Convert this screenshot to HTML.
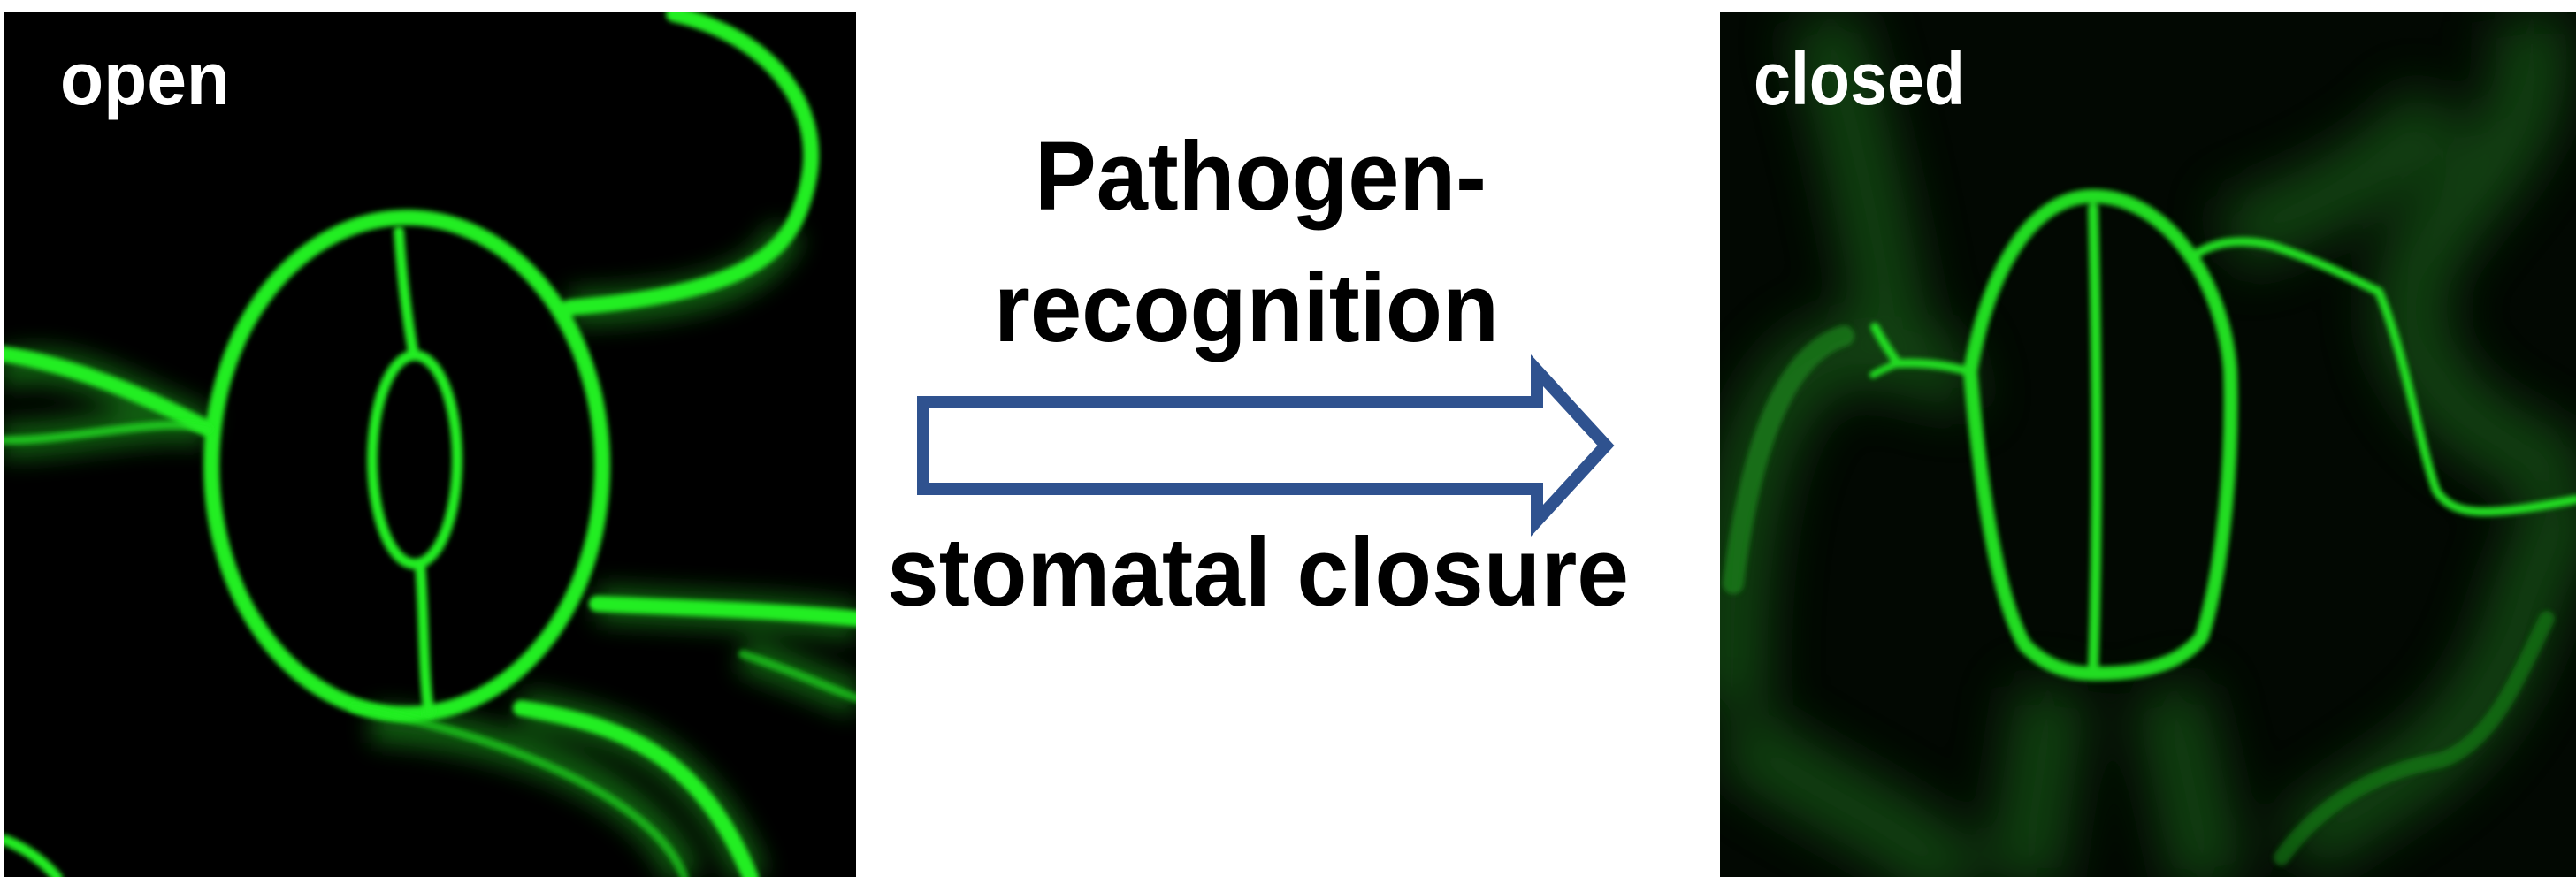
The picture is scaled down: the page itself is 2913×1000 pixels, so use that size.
<!DOCTYPE html>
<html><head><meta charset="utf-8"><style>
html,body{margin:0;padding:0;background:#fff;width:2913px;height:1000px;overflow:hidden}
svg{display:block}
</style></head><body>
<svg width="2913" height="1000" viewBox="0 0 2913 1000" xmlns="http://www.w3.org/2000/svg">
<defs>
<filter id="g" x="-20%" y="-20%" width="140%" height="140%"><feGaussianBlur stdDeviation="3"/></filter>
<filter id="h" x="-30%" y="-30%" width="160%" height="160%"><feGaussianBlur stdDeviation="14"/></filter>
<filter id="hh" x="-30%" y="-30%" width="160%" height="160%"><feGaussianBlur stdDeviation="30"/></filter>
<clipPath id="cl"><rect x="5" y="14" width="963" height="978"/></clipPath>
<clipPath id="cr"><rect x="1945" y="14" width="968" height="978"/></clipPath>
</defs>
<rect width="2913" height="1000" fill="#fff"/>

<!-- LEFT PANEL -->
<g clip-path="url(#cl)">
<rect x="5" y="14" width="963" height="978" fill="#000"/>
<g fill="none" stroke="#1f9a1f" stroke-width="40" filter="url(#h)" opacity="0.6">
<path d="M0,420 C80,400 130,440 235,485"/>
<path d="M0,498 C80,500 180,470 235,485"/>
<path d="M675,683 C780,690 880,690 970,705"/>
<path d="M840,740 C900,760 940,780 970,790"/>
<path d="M589,801 C700,820 790,850 849,993"/>
<path d="M420,820 C600,830 740,900 774,993"/>
<path d="M644,348 C760,345 860,330 890,260"/>
</g>
<g fill="none" stroke="#22ee22" stroke-linecap="round">
<g filter="url(#g)" stroke-width="18">
<ellipse cx="460" cy="527" rx="221" ry="281"/>
<path d="M762,16 C870,40 930,120 915,200 C900,280 860,330 644,348"/>
<path d="M0,400 C70,410 150,440 235,485"/>
<path d="M675,683 C780,688 870,690 970,700"/>
<path d="M589,801 C700,820 790,850 849,993"/>
<path d="M5,950 C30,960 50,975 65,993" stroke-width="12"/>
</g>
<g filter="url(#g)" stroke-width="12">
<ellipse cx="469" cy="520" rx="48" ry="118"/>
<path d="M451,262 C455,320 462,370 468,402"/>
<path d="M475,638 C480,700 478,760 485,805"/>
<path d="M0,498 C80,500 180,470 235,485" stroke-width="10" opacity="0.7"/>
<path d="M400,800 C560,830 740,900 774,993" stroke-width="10" opacity="0.6"/>
<path d="M840,740 C900,760 940,780 970,790" stroke-width="10" opacity="0.6"/>
</g>
</g>
<text x="68" y="118" font-family="'Liberation Sans',sans-serif" font-weight="bold" font-size="84" fill="#fff" textLength="192" lengthAdjust="spacingAndGlyphs">open</text>
</g>

<!-- ARROW -->
<path d="M1044,455 H1738 V419 L1816,504 L1738,589 V553 H1044 Z" fill="#fff" stroke="#2f528f" stroke-width="14" stroke-linejoin="miter"/>
<g font-family="'Liberation Sans',sans-serif" font-weight="bold" font-size="110" fill="#000">
<text x="1170" y="237" textLength="511" lengthAdjust="spacingAndGlyphs">Pathogen-</text>
<text x="1124" y="386" textLength="571" lengthAdjust="spacingAndGlyphs">recognition</text>
<text x="1003" y="685" textLength="839" lengthAdjust="spacingAndGlyphs">stomatal closure</text>
</g>

<!-- RIGHT PANEL -->
<g clip-path="url(#cr)">
<rect x="1945" y="14" width="968" height="978" fill="#020802"/>
<g fill="none" stroke="#1a6a1a" stroke-width="80" filter="url(#hh)" opacity="0.6">
<path d="M1960,800 C1950,600 1990,420 2080,400 C2150,390 2200,430 2228,420"/>
<path d="M2060,20 C2100,150 2130,300 2146,411"/>
<path d="M1960,830 C2050,900 2150,930 2220,1000"/>
<path d="M2450,780 C2470,850 2480,920 2500,1000"/>
<path d="M2320,780 C2310,850 2300,920 2290,1000"/>
<path d="M2600,960 C2700,880 2800,860 2850,700 C2880,600 2913,560 2913,560"/>
<path d="M2860,20 C2880,150 2800,200 2760,260 C2700,330 2720,420 2800,480 C2860,520 2913,540 2913,540"/>
<path d="M2520,270 C2600,240 2700,200 2760,120"/>
</g>
<g fill="none" stroke="#22dd22" stroke-linecap="round" filter="url(#g)">
<path d="M2367,222 C2300,222 2250,300 2228,420 C2240,560 2260,680 2290,730 C2320,760 2350,762 2370,762 C2400,762 2460,760 2490,720 C2515,640 2525,520 2522,420 C2515,320 2450,222 2367,222 Z" stroke-width="16"/>
<path d="M2367,236 C2372,450 2372,600 2367,760" stroke-width="12"/>
<path d="M2228,421 C2200,412 2170,410 2146,411 C2135,395 2128,385 2120,370" stroke-width="10"/>
<path d="M2146,411 C2135,415 2125,420 2118,424" stroke-width="8"/>
<path d="M2480,290 C2500,275 2530,268 2570,278 C2620,295 2650,310 2690,330 C2720,400 2735,500 2755,555 C2775,585 2810,585 2913,565" stroke-width="10"/>
<path d="M2085,380 C2020,400 1980,500 1960,660" stroke-width="24" stroke="#1c9a1c" opacity="0.55"/>
<path d="M2580,970 C2630,900 2700,870 2760,860 C2820,840 2850,760 2880,700" stroke-width="18" stroke="#1c9a1c" opacity="0.5"/>
</g>
<text x="1983" y="118" font-family="'Liberation Sans',sans-serif" font-weight="bold" font-size="84" fill="#fff" textLength="239" lengthAdjust="spacingAndGlyphs">closed</text>
</g>
</svg>
</body></html>
